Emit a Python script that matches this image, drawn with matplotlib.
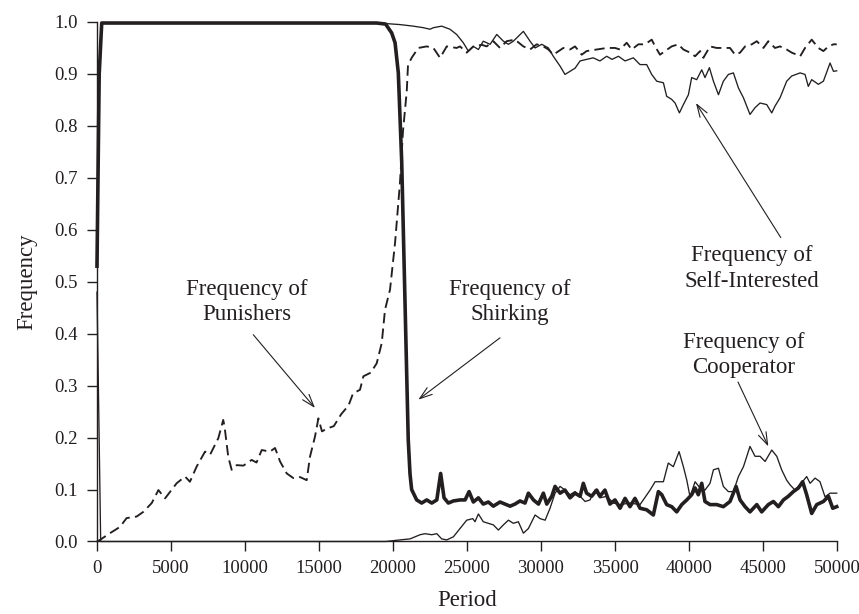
import matplotlib
matplotlib.use("Agg")
import matplotlib.pyplot as plt

plt.rcParams['font.family'] = ['Liberation Serif', 'DejaVu Serif']

# ---- data ----
shirk_x = [0, 150, 320, 18900, 19500, 19910, 20140, 20360, 20590, 21030, 21150, 21260,
           21600, 21940, 22280, 22620, 22960, 23220, 23450, 23740, 24080, 24530, 24870,
           25140, 25430, 25770, 26100, 26440, 26780, 27230, 27570, 27910, 28240, 28580,
           28920, 29150, 29490, 29830, 30160, 30390, 30730, 30950, 31290, 31620, 31960,
           32300, 32640, 32860, 33080, 33420, 33760, 33980, 34320, 34660, 35000, 35340,
           35680, 36010, 36350, 36690, 37140, 37590, 37930, 38160, 38490, 38830, 39170,
           39510, 39850, 40180, 40410, 40630, 40860, 41080, 41420, 41870, 42320, 42770,
           43180, 43450, 43790, 44120, 44580, 44910, 45360, 45700, 46040, 46380, 46710,
           47050, 47390, 47680, 47950, 48290, 48630, 49080, 49420, 49710, 49980]
shirk_y = [0.53, 0.90, 0.998, 0.998, 0.996, 0.979, 0.960, 0.902, 0.73, 0.196, 0.13, 0.10,
           0.080, 0.074, 0.080, 0.074, 0.080, 0.131, 0.084, 0.074, 0.078, 0.080, 0.080,
           0.096, 0.076, 0.084, 0.072, 0.076, 0.068, 0.076, 0.072, 0.068, 0.072, 0.078,
           0.074, 0.093, 0.080, 0.072, 0.093, 0.072, 0.087, 0.106, 0.093, 0.099, 0.084,
           0.093, 0.087, 0.112, 0.093, 0.087, 0.099, 0.087, 0.099, 0.072, 0.080, 0.064,
           0.083, 0.067, 0.083, 0.064, 0.061, 0.051, 0.096, 0.090, 0.071, 0.067, 0.057,
           0.071, 0.080, 0.090, 0.103, 0.090, 0.112, 0.077, 0.071, 0.071, 0.067, 0.077,
           0.106, 0.080, 0.067, 0.057, 0.071, 0.057, 0.071, 0.077, 0.067, 0.080, 0.087,
           0.096, 0.103, 0.115, 0.090, 0.054, 0.071, 0.077, 0.087, 0.064, 0.067]

pun_x = [0, 200, 880, 1550, 2000, 2680, 3130, 3700, 4150, 4600, 5380, 5950, 6280, 6730,
         7300, 7640, 8200, 8530, 8620, 8870, 9100, 9440, 9890, 10450, 10780, 11130, 11690,
         12030, 12370, 12820, 13270, 13720, 14170, 14390, 14730, 14960, 15200, 15600,
         16000, 16500, 17000, 17300, 17770, 18000, 18500, 18900, 19240, 19460, 19800,
         20140, 20470, 20676, 20930, 21014, 21260, 21710, 22280, 22730, 23180, 23630,
         24300, 24530, 24980, 25430, 26000, 26330, 26780, 27230, 27680, 28240, 28810,
         29260, 29710, 30160, 30500, 30830, 31510, 31960, 32300, 32750, 33080, 33760,
         34440, 35000, 35340, 35790, 36130, 36580, 37030, 37480, 37710, 38040, 38380,
         38830, 39280, 39620, 40070, 40410, 40750, 40970, 41420, 41870, 42320, 42770,
         43110, 43450, 43790, 44240, 44580, 45030, 45360, 45810, 46150, 46600, 46940,
         47280, 47510, 47840, 48290, 48740, 49080, 49420, 49760, 49980]
pun_y = [0.0, 0.003, 0.016, 0.028, 0.045, 0.048, 0.057, 0.074, 0.099, 0.083, 0.112, 0.125,
         0.115, 0.144, 0.173, 0.167, 0.199, 0.234, 0.221, 0.163, 0.138, 0.147, 0.146,
         0.157, 0.152, 0.176, 0.173, 0.180, 0.154, 0.131, 0.122, 0.124, 0.118, 0.163,
         0.202, 0.237, 0.212, 0.218, 0.222, 0.245, 0.262, 0.285, 0.292, 0.318, 0.325,
         0.343, 0.382, 0.446, 0.485, 0.575, 0.690, 0.790, 0.867, 0.917, 0.931, 0.950,
         0.953, 0.950, 0.931, 0.953, 0.950, 0.953, 0.941, 0.953, 0.956, 0.953, 0.963,
         0.950, 0.963, 0.966, 0.953, 0.947, 0.957, 0.953, 0.947, 0.937, 0.950, 0.947,
         0.953, 0.937, 0.944, 0.947, 0.950, 0.950, 0.947, 0.960, 0.947, 0.957, 0.957,
         0.966, 0.953, 0.937, 0.944, 0.953, 0.957, 0.947, 0.941, 0.934, 0.944, 0.931,
         0.953, 0.950, 0.950, 0.950, 0.937, 0.941, 0.953, 0.957, 0.963, 0.950, 0.963,
         0.950, 0.953, 0.947, 0.941, 0.937, 0.934, 0.950, 0.966, 0.950, 0.944, 0.953,
         0.957, 0.957]

self_x = [0, 150, 320, 19000, 20470, 21370, 22050, 22500, 22730, 23290, 23850, 24300,
          24750, 25090, 25430, 25770, 26100, 26560, 27010, 27460, 27800, 28130, 28810,
          29260, 29600, 30050, 30500, 30830, 31290, 31620, 31960, 32300, 32640, 33080,
          33530, 33980, 34440, 34800, 35230, 35680, 36240, 36690, 37140, 37480, 37820,
          38270, 38490, 38830, 39060, 39350, 39620, 39960, 40180, 40520, 40860, 41080,
          41380, 41650, 41990, 42320, 42660, 43000, 43340, 43680, 44120, 44460, 44800,
          45250, 45590, 45810, 46150, 46600, 46940, 47510, 47840, 48060, 48290, 48740,
          49080, 49530, 49760, 49980]
self_y = [0.53, 0.90, 0.998, 0.998, 0.995, 0.992, 0.989, 0.986, 0.989, 0.992, 0.986,
          0.976, 0.960, 0.944, 0.953, 0.947, 0.963, 0.957, 0.976, 0.963, 0.957, 0.963,
          0.982, 0.963, 0.950, 0.957, 0.950, 0.934, 0.915, 0.899, 0.905, 0.911, 0.925,
          0.928, 0.931, 0.925, 0.934, 0.928, 0.934, 0.925, 0.931, 0.918, 0.918, 0.899,
          0.886, 0.883, 0.857, 0.851, 0.844, 0.825, 0.841, 0.860, 0.893, 0.889, 0.908,
          0.893, 0.912, 0.886, 0.860, 0.886, 0.899, 0.902, 0.873, 0.854, 0.822, 0.835,
          0.844, 0.841, 0.825, 0.838, 0.854, 0.886, 0.896, 0.902, 0.899, 0.876, 0.889,
          0.880, 0.886, 0.921, 0.905, 0.906]

coop_x = [0, 250, 19500, 20470, 21150, 21830, 22170, 22620, 22960, 23290, 23630, 24080,
          24530, 24980, 25390, 25540, 25770, 26100, 26440, 26780, 27120, 27460, 27800,
          28130, 28470, 28810, 29150, 29600, 29940, 30280, 30610, 30950, 31290, 31620,
          31960, 32300, 32640, 32980, 33310, 33650, 33980, 34440, 34890, 35340, 36010,
          36690, 36910, 37370, 37710, 38270, 38600, 38940, 39330, 39620, 39850, 40070,
          40410, 40750, 41080, 41420, 41650, 41990, 42320, 42660, 43000, 43340, 43680,
          44120, 44460, 44800, 45140, 45590, 45930, 46260, 46600, 46830, 47160, 47500,
          47950, 48180, 48520, 48850, 49190, 49530, 49980]
coop_y = [0.48, 0.0, 0.0, 0.003, 0.005, 0.013, 0.015, 0.013, 0.015, 0.005, 0.003, 0.009,
          0.025, 0.041, 0.044, 0.038, 0.053, 0.038, 0.035, 0.032, 0.022, 0.032, 0.041,
          0.035, 0.038, 0.016, 0.025, 0.051, 0.044, 0.041, 0.064, 0.093, 0.106, 0.099,
          0.090, 0.096, 0.087, 0.077, 0.080, 0.099, 0.084, 0.087, 0.074, 0.071, 0.074,
          0.071, 0.080, 0.099, 0.115, 0.115, 0.151, 0.144, 0.173, 0.144, 0.118, 0.086,
          0.115, 0.103, 0.099, 0.112, 0.138, 0.141, 0.106, 0.096, 0.096, 0.125, 0.144,
          0.183, 0.164, 0.164, 0.154, 0.176, 0.164, 0.138, 0.118, 0.109, 0.099, 0.109,
          0.125, 0.112, 0.122, 0.115, 0.086, 0.093, 0.093]

x_ticks = [0, 5000, 10000, 15000, 20000, 25000, 30000, 35000, 40000, 45000, 50000]
y_ticks = [0.0, 0.1, 0.2, 0.3, 0.4, 0.5, 0.6, 0.7, 0.8, 0.9, 1.0]

# ---- figure ----
fig = plt.figure(figsize=(8.59, 6.14), dpi=100)
ax = fig.add_axes([0.1129, 0.1181, 0.8615, 0.8461])

c = '#231f20'
ax.plot(self_x, self_y, color=c, lw=0.95, clip_on=False, zorder=3)
ax.plot(coop_x, coop_y, color=c, lw=0.95, clip_on=False, zorder=3)
ax.plot(pun_x, pun_y, color=c, lw=1.35, dashes=(5.5, 2.8), clip_on=False, zorder=3)
ax.plot(shirk_x, shirk_y, color=c, lw=2.6, clip_on=False, zorder=4,
        solid_joinstyle='round')

ax.set_xlim(0, 50000)
ax.set_ylim(0, 1.0)
ax.set_xticks(x_ticks)
ax.set_yticks(y_ticks)
ax.set_xticklabels([str(v) for v in x_ticks])
ax.set_yticklabels([f"{v:.1f}" for v in y_ticks])
ax.tick_params(axis='both', direction='out', length=7, width=1, colors=c,
               labelsize=13.5, labelcolor=c)
ax.tick_params(axis='x', pad=6)
ax.tick_params(axis='y', pad=7)
for s in ['top', 'right']:
    ax.spines[s].set_visible(False)
for s in ['left', 'bottom']:
    ax.spines[s].set_color(c)
    ax.spines[s].set_linewidth(1.0)

ax.set_xlabel('Period', fontsize=16.5, color=c, labelpad=10)
ax.set_ylabel('Frequency', fontsize=16.5, color=c, labelpad=12)

tkw = dict(fontsize=16.5, color=c, ha='center', va='center', linespacing=1.3)
ax.text(10140, 0.461, 'Frequency of\nPunishers', **tkw)
ax.text(27900, 0.461, 'Frequency of\nShirking', **tkw)
ax.text(44260, 0.525, 'Frequency of\nSelf-Interested', **tkw)
ax.text(43720, 0.359, 'Frequency of\nCooperator', **tkw)

akw = dict(arrowstyle='->,head_length=0.9,head_width=0.3', color=c, lw=0.8,
           shrinkA=0, shrinkB=0)
ax.annotate('', xy=(14730, 0.257), xytext=(10560, 0.398), arrowprops=akw)
ax.annotate('', xy=(21710, 0.273), xytext=(27230, 0.392), arrowprops=akw)
ax.annotate('', xy=(40470, 0.844), xytext=(46200, 0.585), arrowprops=akw)
ax.annotate('', xy=(45360, 0.183), xytext=(43310, 0.307), arrowprops=akw)

fig.savefig('out.png', dpi=100)
